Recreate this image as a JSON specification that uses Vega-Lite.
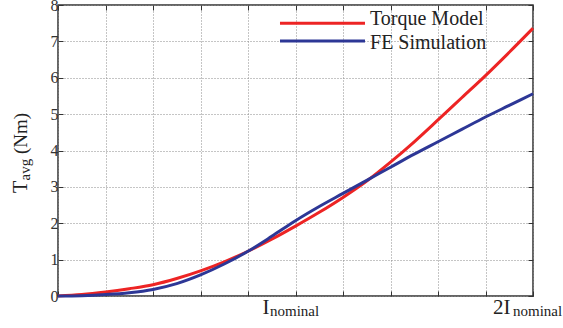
{
  "$schema": "https://vega.github.io/schema/vega-lite/v6.json",
  "width": 475,
  "height": 291,
  "autosize": {"type": "none"},
  "padding": {"left": 58, "top": 5, "right": 30, "bottom": 32},
  "background": "white",
  "config": {
    "view": {"stroke": "#333333", "strokeWidth": 1.5},
    "font": "Liberation Serif",
    "axis": {"labelFont": "Liberation Serif"}
  },
  "data": {
    "values": [
      {"x": 0.0, "T": 0.0, "series": "Torque Model"},
      {"x": 0.1, "T": 0.04, "series": "Torque Model"},
      {"x": 0.2, "T": 0.11, "series": "Torque Model"},
      {"x": 0.3, "T": 0.2, "series": "Torque Model"},
      {"x": 0.4, "T": 0.31, "series": "Torque Model"},
      {"x": 0.5, "T": 0.48, "series": "Torque Model"},
      {"x": 0.6, "T": 0.69, "series": "Torque Model"},
      {"x": 0.7, "T": 0.94, "series": "Torque Model"},
      {"x": 0.8, "T": 1.23, "series": "Torque Model"},
      {"x": 0.9, "T": 1.56, "series": "Torque Model"},
      {"x": 1.0, "T": 1.92, "series": "Torque Model"},
      {"x": 1.1, "T": 2.3, "series": "Torque Model"},
      {"x": 1.2, "T": 2.71, "series": "Torque Model"},
      {"x": 1.3, "T": 3.16, "series": "Torque Model"},
      {"x": 1.4, "T": 3.68, "series": "Torque Model"},
      {"x": 1.5, "T": 4.24, "series": "Torque Model"},
      {"x": 1.6, "T": 4.84, "series": "Torque Model"},
      {"x": 1.7, "T": 5.45, "series": "Torque Model"},
      {"x": 1.8, "T": 6.06, "series": "Torque Model"},
      {"x": 1.9, "T": 6.7, "series": "Torque Model"},
      {"x": 2.0, "T": 7.36, "series": "Torque Model"},
      {"x": 0.0, "T": 0.0, "series": "FE Simulation"},
      {"x": 0.1, "T": 0.01, "series": "FE Simulation"},
      {"x": 0.2, "T": 0.04, "series": "FE Simulation"},
      {"x": 0.3, "T": 0.09, "series": "FE Simulation"},
      {"x": 0.4, "T": 0.18, "series": "FE Simulation"},
      {"x": 0.5, "T": 0.34, "series": "FE Simulation"},
      {"x": 0.6, "T": 0.58, "series": "FE Simulation"},
      {"x": 0.7, "T": 0.88, "series": "FE Simulation"},
      {"x": 0.8, "T": 1.23, "series": "FE Simulation"},
      {"x": 0.9, "T": 1.64, "series": "FE Simulation"},
      {"x": 1.0, "T": 2.07, "series": "FE Simulation"},
      {"x": 1.1, "T": 2.46, "series": "FE Simulation"},
      {"x": 1.2, "T": 2.82, "series": "FE Simulation"},
      {"x": 1.3, "T": 3.18, "series": "FE Simulation"},
      {"x": 1.4, "T": 3.54, "series": "FE Simulation"},
      {"x": 1.5, "T": 3.9, "series": "FE Simulation"},
      {"x": 1.6, "T": 4.24, "series": "FE Simulation"},
      {"x": 1.7, "T": 4.58, "series": "FE Simulation"},
      {"x": 1.8, "T": 4.92, "series": "FE Simulation"},
      {"x": 1.9, "T": 5.24, "series": "FE Simulation"},
      {"x": 2.0, "T": 5.56, "series": "FE Simulation"}
    ]
  },
  "layer": [
    {
      "transform": [{"filter": "datum.series == 'Torque Model'"}],
      "mark": {"type": "line", "strokeWidth": 3, "interpolate": "monotone"},
      "encoding": {
        "x": {
          "field": "x", "type": "quantitative",
          "scale": {"domain": [0, 2], "nice": false, "zero": false},
          "axis": {
            "values": [0, 0.2, 0.4, 0.6, 0.8, 1, 1.2, 1.4, 1.6, 1.8, 2],
            "labels": false, "title": null, "domain": false,
            "grid": true, "gridDash": [1, 2], "gridColor": "#8a8a8a", "gridWidth": 1,
            "ticks": true, "tickSize": -5, "tickColor": "#333333", "tickWidth": 1
          }
        },
        "y": {
          "field": "T", "type": "quantitative",
          "scale": {"domain": [0, 8], "nice": false},
          "axis": {
            "values": [0, 1, 2, 3, 4, 5, 6, 7, 8],
            "title": null, "domain": false,
            "grid": true, "gridDash": [1, 2], "gridColor": "#8a8a8a", "gridWidth": 1,
            "ticks": true, "tickSize": -5, "tickColor": "#333333", "tickWidth": 1,
            "labelFont": "Liberation Serif", "labelFontSize": 16, "labelColor": "#333333",
            "labelPadding": 5
          }
        },
        "color": {
          "field": "series", "type": "nominal",
          "scale": {"domain": ["Torque Model", "FE Simulation"], "range": ["#ed2424", "#2d3796"]},
          "legend": null
        }
      }
    },
    {
      "transform": [{"filter": "datum.series == 'FE Simulation'"}],
      "mark": {"type": "line", "strokeWidth": 3, "interpolate": "monotone"},
      "encoding": {
        "x": {
          "field": "x", "type": "quantitative",
          "axis": {
            "orient": "top",
            "values": [0, 0.2, 0.4, 0.6, 0.8, 1, 1.2, 1.4, 1.6, 1.8, 2],
            "labels": false, "title": null, "domain": false, "grid": false,
            "ticks": true, "tickSize": -5, "tickColor": "#333333", "tickWidth": 1
          }
        },
        "y": {
          "field": "T", "type": "quantitative",
          "axis": {
            "orient": "right",
            "values": [0, 1, 2, 3, 4, 5, 6, 7, 8],
            "labels": false, "title": null, "domain": false, "grid": false,
            "ticks": true, "tickSize": -5, "tickColor": "#333333", "tickWidth": 1
          }
        },
        "color": {"field": "series", "type": "nominal", "legend": null}
      }
    },
    {
      "data": {"values": [{"series": "Torque Model"}]},
      "mark": {"type": "rule", "strokeWidth": 3},
      "encoding": {
        "x": {"datum": 0.9347, "type": "quantitative", "axis": null},
        "x2": {"datum": 1.2926},
        "y": {"datum": 7.497, "type": "quantitative", "axis": null},
        "color": {"field": "series", "type": "nominal", "legend": null}
      }
    },
    {
      "data": {"values": [{"series": "FE Simulation"}]},
      "mark": {"type": "rule", "strokeWidth": 3},
      "encoding": {
        "x": {"datum": 0.9347, "type": "quantitative", "axis": null},
        "x2": {"datum": 1.2926},
        "y": {"datum": 7.01, "type": "quantitative", "axis": null},
        "color": {"field": "series", "type": "nominal", "legend": null}
      }
    },
    {
      "data": {"values": [{"series": "Torque Model"}]},
      "mark": {"type": "text", "align": "left", "baseline": "alphabetic", "fontSize": 20, "font": "Liberation Serif", "color": "#222222"},
      "encoding": {
        "x": {"datum": 1.3137, "type": "quantitative", "axis": null},
        "y": {"datum": 7.45, "type": "quantitative", "axis": null},
        "text": {"field": "series"}
      }
    },
    {
      "data": {"values": [{"series": "FE Simulation"}]},
      "mark": {"type": "text", "align": "left", "baseline": "alphabetic", "fontSize": 20, "font": "Liberation Serif", "color": "#222222"},
      "encoding": {
        "x": {"datum": 1.3137, "type": "quantitative", "axis": null},
        "y": {"datum": 6.782, "type": "quantitative", "axis": null},
        "text": {"field": "series"}
      }
    },
    {
      "data": {"values": [{"label": "I", "at": 1}]},
      "mark": {"type": "text", "align": "left", "baseline": "alphabetic", "dx": -33, "dy": 18, "fontSize": 21, "font": "Liberation Serif", "color": "#222222"},
      "encoding": {
        "x": {"field": "at", "type": "quantitative", "axis": null},
        "y": {"datum": 0, "type": "quantitative", "axis": null},
        "text": {"field": "label"}
      }
    },
    {
      "data": {"values": [{"label": "nominal", "at": 1}]},
      "mark": {"type": "text", "align": "left", "baseline": "alphabetic", "dx": -25.5, "dy": 20, "fontSize": 15, "font": "Liberation Serif", "color": "#222222"},
      "encoding": {
        "x": {"field": "at", "type": "quantitative", "axis": null},
        "y": {"datum": 0, "type": "quantitative", "axis": null},
        "text": {"field": "label"}
      }
    },
    {
      "data": {"values": [{"label": "2I", "at": 2}]},
      "mark": {"type": "text", "align": "left", "baseline": "alphabetic", "dx": -40, "dy": 18, "fontSize": 21, "font": "Liberation Serif", "color": "#222222"},
      "encoding": {
        "x": {"field": "at", "type": "quantitative", "axis": null},
        "y": {"datum": 0, "type": "quantitative", "axis": null},
        "text": {"field": "label"}
      }
    },
    {
      "data": {"values": [{"label": "nominal", "at": 2}]},
      "mark": {"type": "text", "align": "left", "baseline": "alphabetic", "dx": -20, "dy": 20, "fontSize": 15, "font": "Liberation Serif", "color": "#222222"},
      "encoding": {
        "x": {"field": "at", "type": "quantitative", "axis": null},
        "y": {"datum": 0, "type": "quantitative", "axis": null},
        "text": {"field": "label"}
      }
    },
    {
      "data": {"values": [{"label": "T"}]},
      "mark": {"type": "text", "angle": 270, "align": "left", "baseline": "alphabetic", "dx": 0, "dy": 0, "fontSize": 20, "font": "Liberation Serif", "color": "#222222"},
      "encoding": {
        "x": {"datum": -0.1326, "type": "quantitative", "axis": null},
        "y": {"datum": 2.832, "type": "quantitative", "axis": null},
        "text": {"field": "label"}
      }
    },
    {
      "data": {"values": [{"label": "avg"}]},
      "mark": {"type": "text", "angle": 270, "align": "left", "baseline": "alphabetic", "dx": 12.5, "dy": 3.5, "fontSize": 15, "font": "Liberation Serif", "color": "#222222"},
      "encoding": {
        "x": {"datum": -0.1326, "type": "quantitative", "axis": null},
        "y": {"datum": 2.832, "type": "quantitative", "axis": null},
        "text": {"field": "label"}
      }
    },
    {
      "data": {"values": [{"label": "(Nm)"}]},
      "mark": {"type": "text", "angle": 270, "align": "left", "baseline": "alphabetic", "dx": 39, "dy": 0, "fontSize": 19, "font": "Liberation Serif", "color": "#222222"},
      "encoding": {
        "x": {"datum": -0.1326, "type": "quantitative", "axis": null},
        "y": {"datum": 2.832, "type": "quantitative", "axis": null},
        "text": {"field": "label"}
      }
    }
  ],
  "resolve": {"axis": {"x": "independent", "y": "independent"}}
}
